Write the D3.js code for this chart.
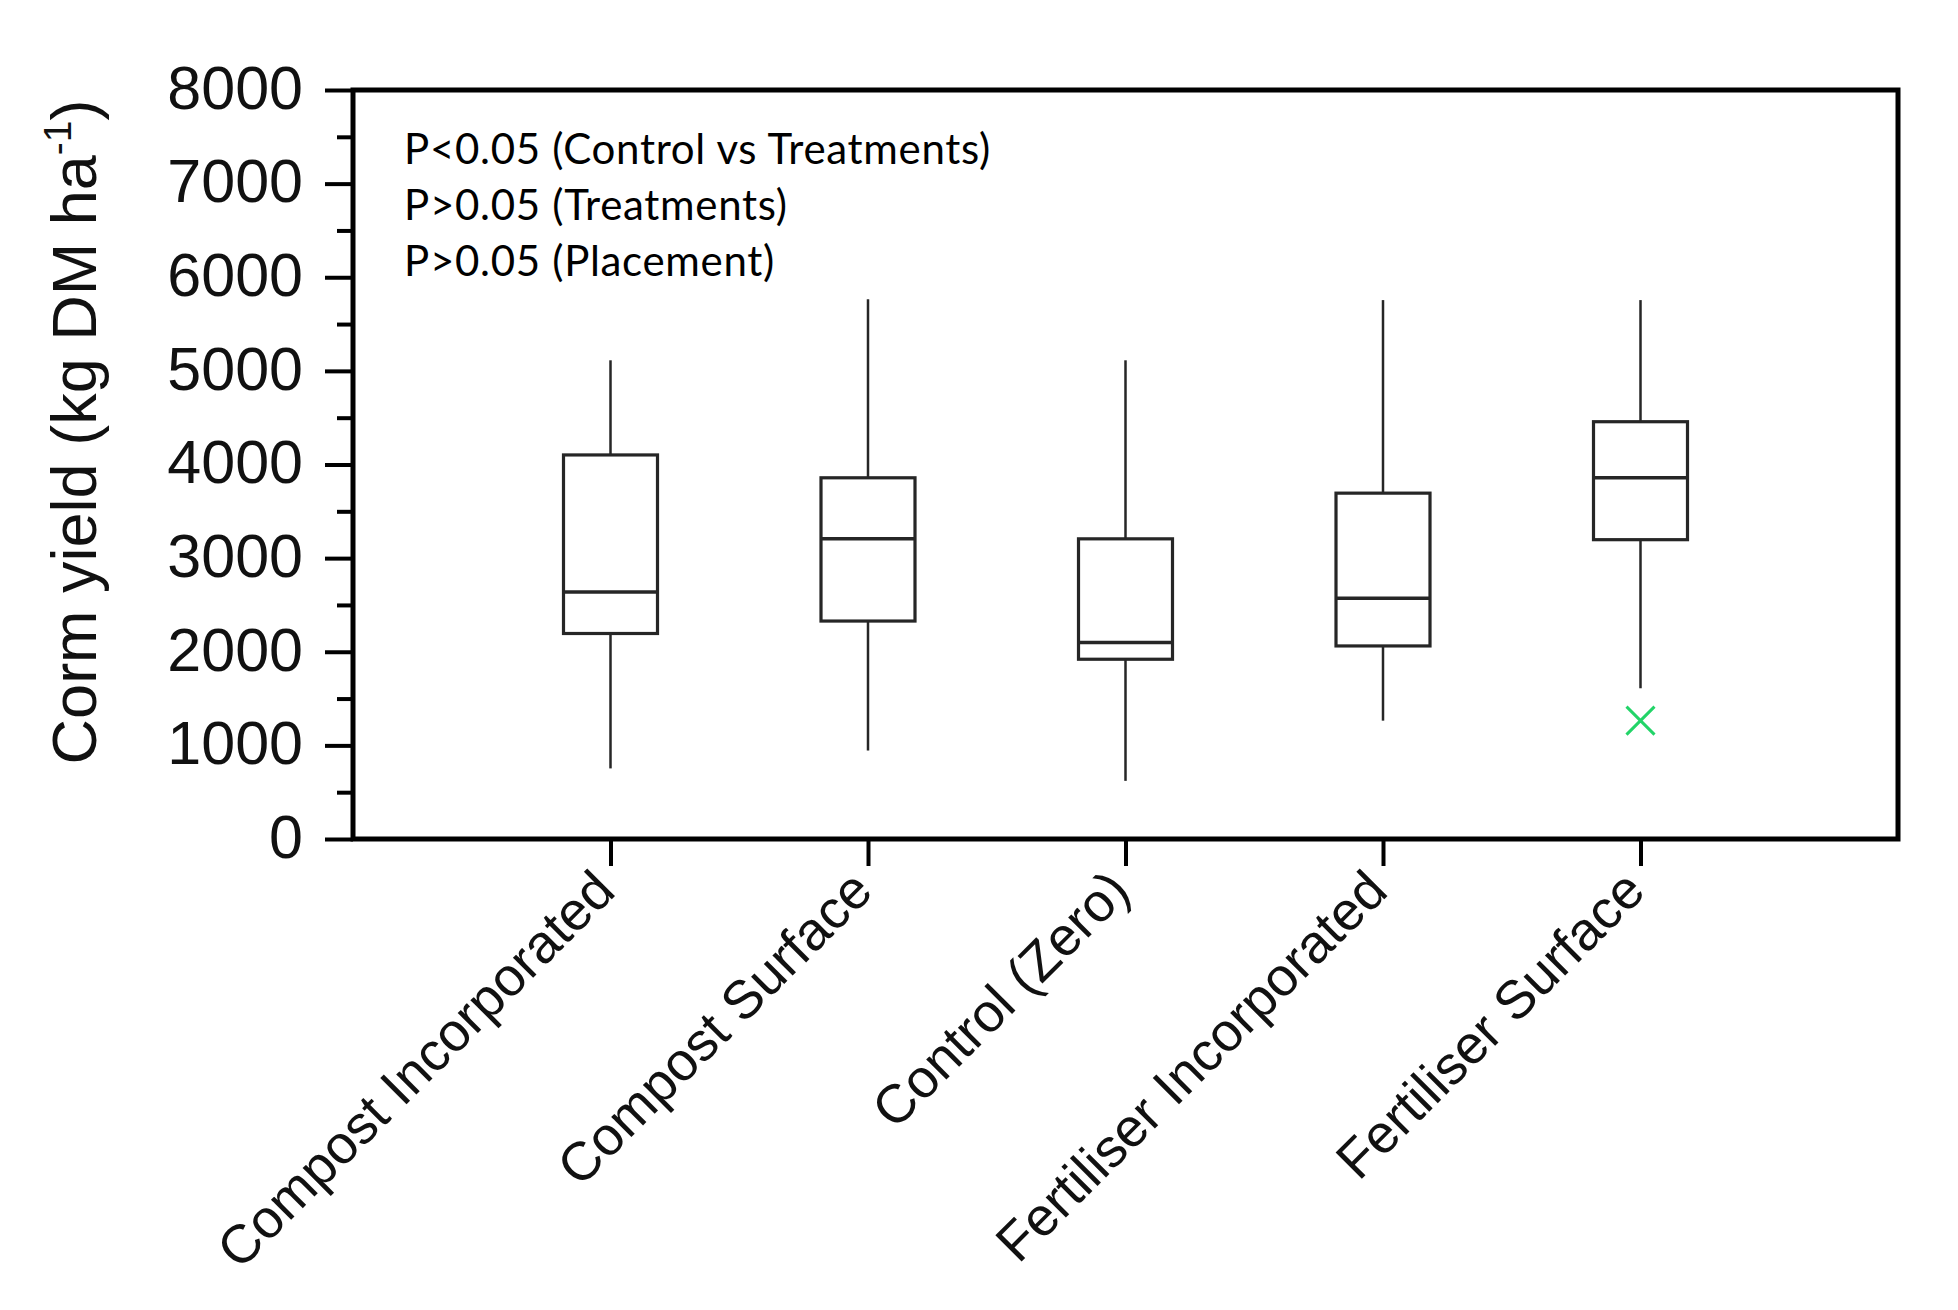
<!DOCTYPE html>
<html>
<head>
<meta charset="utf-8">
<script src="https://cdn.jsdelivr.net/npm/d3@7"></script>
<style>
  body { margin: 0; background: #fff; }
  svg { display: block; }
</style>
</head>
<body>
<svg id="chart" width="1958" height="1310"></svg>
<script>
// ---------------------------------------------------------------------------
// data (kg DM / ha)

const categories = ["Compost Incorporated", "Compost Surface", "Control (Zero)",
                    "Fertiliser Incorporated", "Fertiliser Surface"];
const whiskerLow  = [754, 945, 621, 1264, 1610];
const q1          = [2195, 2328, 1920, 2062, 3197];
const median      = [2639, 3206, 2098, 2572, 3858];
const q3          = [4102, 3858, 3206, 3694, 4457];
const whiskerHigh = [5113, 5765, 5113, 5756, 5756];
const outlierCat   = ["Fertiliser Surface"];
const outlierValue = [1264];

const yMajorTicks = [0, 1000, 2000, 3000, 4000, 5000, 6000, 7000, 8000];
const yMinorTicks = [500, 1500, 2500, 3500, 4500, 5500, 6500, 7500];
const statsLines = ["P<0.05 (Control vs Treatments)", "P>0.05 (Treatments)", "P>0.05 (Placement)"];

// ---------------------------------------------------------------------------
// layout

const svg = d3.select("#chart");
const margin = { top: 90, right: 60, bottom: 471, left: 353 };
const width = 1958 - margin.left - margin.right;
const height = 1310 - margin.top - margin.bottom;

const g = svg.append("g").attr("transform", `translate(${margin.left},${margin.top})`);

const x = d3.scalePoint().domain(categories).range([0, width]).padding(1);
const y = d3.scaleLinear().domain([0, 8000]).range([height, 0]);

const boxW = 94;
const ink = "#262626";

// rows for the boxes
const rows = categories.map((c, i) => ({
  cat: c, lo: whiskerLow[i], q1: q1[i], med: median[i], q3: q3[i], hi: whiskerHigh[i]
}));

// ---------------------------------------------------------------------------
// axes

const yMinor = g.append("g")
  .call(d3.axisLeft(y).tickValues(yMinorTicks).tickSize(16).tickFormat(""));
yMinor.select(".domain").remove();
yMinor.selectAll("line").attr("stroke", "#000").attr("stroke-width", 4);

const yMajor = g.append("g")
  .call(d3.axisLeft(y).tickValues(yMajorTicks).tickSize(28).tickPadding(22).tickFormat(d3.format("d")));
yMajor.select(".domain").remove();
yMajor.selectAll("line").attr("stroke", "#000").attr("stroke-width", 4);
yMajor.selectAll("text")
  .attr("font-family", "'Liberation Sans', Arial, sans-serif")
  .attr("font-size", 61)
  .attr("fill", "#111")
  .attr("dy", "0.3em");

const xAxis = g.append("g")
  .attr("transform", `translate(0,${height})`)
  .call(d3.axisBottom(x).tickSize(27).tickPadding(0));
xAxis.select(".domain").remove();
xAxis.selectAll("line").attr("stroke", "#000").attr("stroke-width", 4);
xAxis.selectAll("text")
  .attr("font-family", "'Liberation Sans', Arial, sans-serif")
  .attr("font-size", 54)
  .attr("fill", "#111")
  .attr("text-anchor", "end")
  .attr("dy", "0.35em")
  .attr("transform", "translate(-26,22) rotate(-45)");

// frame
g.append("rect")
  .attr("x", 0).attr("y", 0)
  .attr("width", width).attr("height", height)
  .attr("fill", "none")
  .attr("stroke", "#000")
  .attr("stroke-width", 5);

// ---------------------------------------------------------------------------
// box plots

const box = g.append("g").selectAll("g")
  .data(rows)
  .join("g")
  .attr("transform", d => `translate(${x(d.cat)},0)`);

box.append("line")
  .attr("x1", 0).attr("x2", 0)
  .attr("y1", d => y(d.hi)).attr("y2", d => y(d.q3))
  .attr("stroke", ink).attr("stroke-width", 2.5);

box.append("line")
  .attr("x1", 0).attr("x2", 0)
  .attr("y1", d => y(d.q1)).attr("y2", d => y(d.lo))
  .attr("stroke", ink).attr("stroke-width", 2.5);

box.append("rect")
  .attr("x", -boxW / 2)
  .attr("width", boxW)
  .attr("y", d => y(d.q3))
  .attr("height", d => y(d.q1) - y(d.q3))
  .attr("fill", "#fff")
  .attr("stroke", ink)
  .attr("stroke-width", 3.2);

box.append("line")
  .attr("x1", -boxW / 2).attr("x2", boxW / 2)
  .attr("y1", d => y(d.med)).attr("y2", d => y(d.med))
  .attr("stroke", ink).attr("stroke-width", 3.5);

// outliers drawn as a green cross
const outliers = outlierCat.map((c, i) => ({ cat: c, value: outlierValue[i] }));
g.append("g").selectAll("path")
  .data(outliers)
  .join("path")
  .attr("transform", d => `translate(${x(d.cat)},${y(d.value)})`)
  .attr("d", "M-14,-14L14,14M-14,14L14,-14")
  .attr("fill", "none")
  .attr("stroke", "#22d468")
  .attr("stroke-width", 3);

// ---------------------------------------------------------------------------
// text

g.append("g").selectAll("text")
  .data(statsLines)
  .join("text")
  .attr("x", 51)
  .attr("y", (d, i) => 74 + i * 56)
  .attr("font-family", "Lato, 'Open Sans', sans-serif")
  .attr("font-size", 42)
  .attr("letter-spacing", 0.7)
  .attr("fill", "#000")
  .text(d => d);

const yLabel = svg.append("text")
  .attr("transform", "translate(96,432) rotate(-90)")
  .attr("text-anchor", "middle")
  .attr("font-family", "'Liberation Sans', Arial, sans-serif")
  .attr("font-size", 63)
  .attr("fill", "#111");
yLabel.append("tspan").text("Corm yield (kg DM ha");
yLabel.append("tspan").attr("font-size", 39).attr("dy", -25).text("-1");
yLabel.append("tspan").attr("dy", 25).text(")");
</script>
</body>
</html>
